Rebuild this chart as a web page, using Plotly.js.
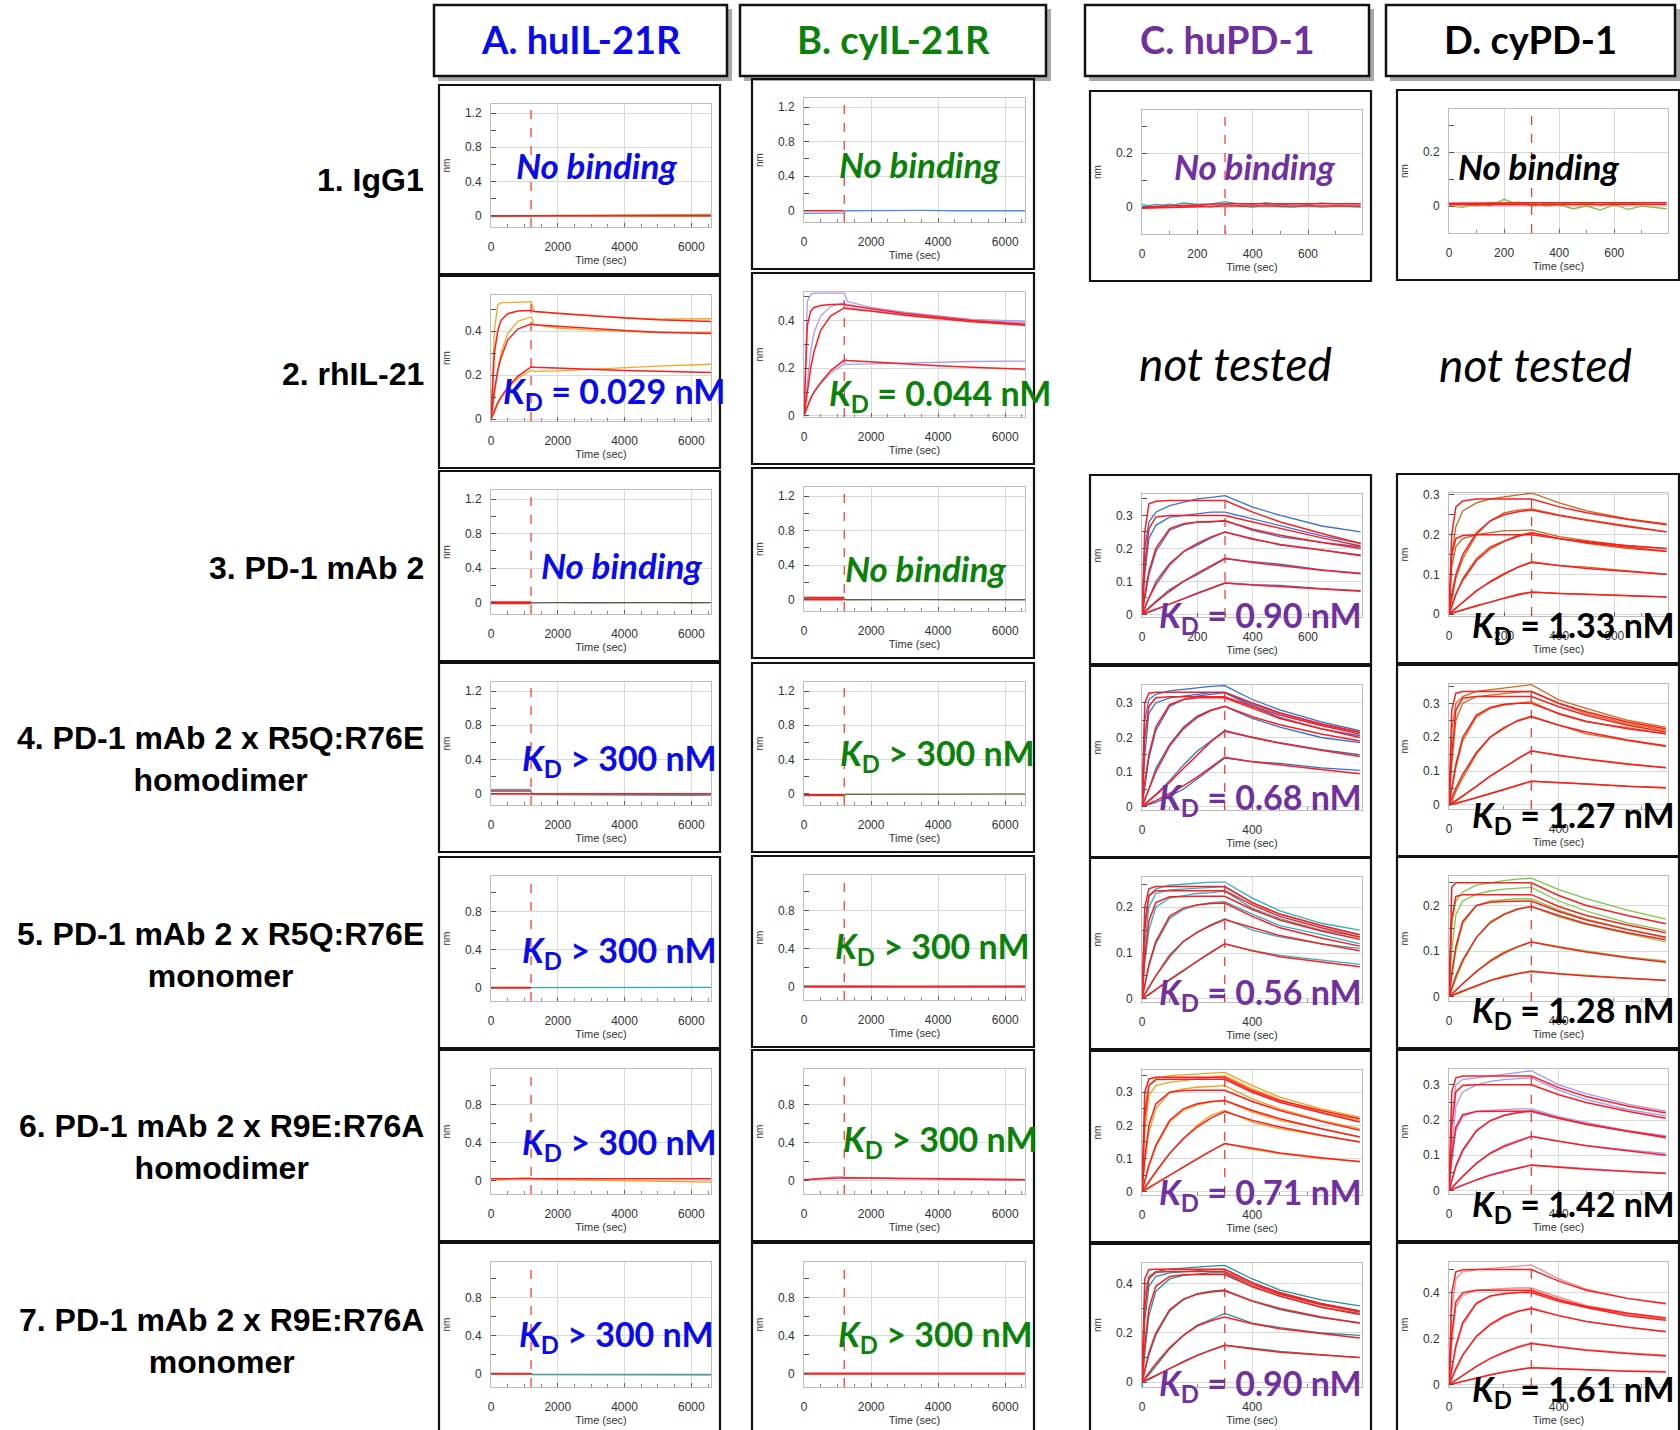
<!DOCTYPE html>
<html><head><meta charset="utf-8">
<script src="https://cdn.plot.ly/plotly-3.0.1.min.js"></script>
<style>html,body{margin:0;padding:0;background:#fff}#chart{width:1680px;height:1430px}</style>
</head><body><div id="chart"></div>
<script>
// ================= DATA =================
const COLUMN_TITLES = ['A. huIL-21R', 'B. cyIL-21R', 'C. huPD-1', 'D. cyPD-1'];
const ROW_LABELS = ['1. IgG1', '2. rhIL-21', '3. PD-1 mAb 2',
  '4. PD-1 mAb 2 x R5Q:R76E<br>homodimer', '5. PD-1 mAb 2 x R5Q:R76E<br>monomer',
  '6. PD-1 mAb 2 x R9E:R76A<br>homodimer', '7. PD-1 mAb 2 x R9E:R76A<br>monomer'];
const RESULT_A = ['No binding', '= 0.029 nM', 'No binding', '> 300 nM', '> 300 nM', '> 300 nM', '> 300 nM'];
const RESULT_B = ['No binding', '= 0.044 nM', 'No binding', '> 300 nM', '> 300 nM', '> 300 nM', '> 300 nM'];
const RESULT_C = ['No binding', 'not tested', '= 0.90 nM', '= 0.68 nM', '= 0.56 nM', '= 0.71 nM', '= 0.90 nM'];
const RESULT_D = ['No binding', 'not tested', '= 1.33 nM', '= 1.27 nM', '= 1.28 nM', '= 1.42 nM', '= 1.61 nM'];

// time grids (sec)
const T_AB = [0, 100, 200, 300, 500, 800, 1200, 1300, 2000, 3000, 4000, 5000, 6590];
const T_CD = [0, 10, 25, 50, 100, 150, 200, 250, 300, 400, 500, 650, 790];
const T_NOISE_AB = [0, 300, 600, 900, 1200, 1250, 2000, 2800, 3600, 4400, 5200, 6000, 6590];
const T_NOISE_CD = [0, 50, 100, 150, 200, 250, 300, 350, 400, 450, 500, 550, 600, 650, 700, 790];
const T_FLAT = [0, 1200, 6590];
const T_ASSOC = [0, 1200];
const T_FLAT_CD = [0, 300, 790];

// ---- flat (no-binding) responses, nm ----
const A1_DATA = [-0.01, -0.005, -0.008, -0.004, -0.002, 0.002, 0.005, 0.008, 0.01, 0.012, 0.015, 0.014, 0.016];
const A1_FIT = [0.0, 0.0, 0.0];
const B1_DATA = [-0.03, -0.03, -0.028, -0.03, -0.025, 0.0, 0.003, 0.0, 0.004, 0.0, 0.003, -0.002, 0.0];
const B1_FIT = [0.0, 0.0];
const C1_DATA = [
  [0.0, 0.01, 0.005, 0.015, 0.01, 0.012, 0.02, 0.012, 0.01, 0.016, 0.008, 0.013, 0.01, 0.015, 0.012, 0.012],
  [0.01, 0.0, 0.012, -0.002, 0.008, 0.0, 0.01, 0.005, 0.0, 0.009, 0.002, 0.0, 0.007, 0.0, 0.005, 0.0]];
const C1_FIT = [[0.0, 0.012, 0.012], [-0.004, 0.004, 0.004]];
const D1_DATA = [
  [0.0, -0.005, 0.01, 0.0, 0.025, 0.005, 0.012, 0.0, 0.005, -0.01, 0.0, -0.015, 0.005, -0.012, 0.0, -0.01],
  [0.005, 0.01, 0.0, 0.012, 0.005, 0.015, 0.0, 0.01, 0.012, 0.006, 0.012, 0.004, 0.01, 0.008, 0.012, 0.012]];
const D1_FIT = [[0.005, 0.006, 0.006], [0.01, 0.012, 0.012]];
const A3_DATA = [-0.005, -0.003, -0.006, -0.004, -0.003, 0.0, 0.002, 0.0, 0.003, 0.001, 0.002, 0.0, 0.001];
const A3_FIT = [0.0, 0.0];
const B3_DATA = [0.01, 0.01, 0.008, 0.01, 0.01, 0.0, 0.003, -0.002, 0.002, 0.0, 0.002, -0.002, 0.0];
const B3_FIT = [[0.025, 0.025], [0.0, 0.0]];
const A4_DATA = [0.03, 0.028, 0.03, 0.032, 0.03, -0.01, -0.012, -0.01, -0.015, -0.012, -0.015, -0.016, -0.015];
const A4_FIT = [[0.045, 0.045], [0.0, 0.0, 0.0]];
const B4_DATA = [-0.02, -0.022, -0.02, -0.021, -0.02, -0.005, -0.004, -0.005, -0.003, -0.005, -0.004, -0.005, -0.004];
const B4_FIT = [-0.01, -0.01];
const A5_DATA = [0.0, 0.0, 0.0, 0.0, 0.0, 0.002, 0.001, 0.002, 0.0, 0.002, 0.001, 0.002, 0.002];
const A5_FIT = [0.0, 0.0];
const B5_DATA = [0.004, 0.003, 0.004, 0.005, 0.004, 0.003, 0.004, 0.003, 0.004, 0.003, 0.004, 0.003, 0.004];
const B5_FIT = [0.0, 0.0, 0.0];
const A6_DATA = [0.0, 0.01, 0.02, 0.03, 0.03, 0.02, 0.01, 0.005, 0.0, -0.005, -0.01, -0.015, -0.015];
const A6_FIT = [0.02, 0.02, 0.02];
const B6_DATA = [0.0, 0.02, 0.03, 0.04, 0.04, 0.03, 0.03, 0.02, 0.02, 0.012, 0.01, 0.005, 0.005];
const B6_FIT = [0.01, 0.03, 0.01];
const A7_DATA = [0.0, 0.0, 0.0, 0.0, 0.0, -0.01, -0.01, -0.012, -0.01, -0.012, -0.01, -0.012, -0.012];
const A7_FIT = [0.0, 0.0];
const B7_DATA = [0.003, 0.004, 0.002, 0.004, 0.003, 0.002, 0.003, 0.002, 0.003, 0.002, 0.003, 0.002, 0.003];
const B7_FIT = [0.0, 0.0, 0.0];

// ---- rhIL-21 kinetics (T_AB) ----
const A2_FIT = [
  [0, 0.30, 0.40, 0.45, 0.48, 0.492, 0.495, 0.49, 0.482, 0.47, 0.46, 0.452, 0.445],
  [0, 0.13, 0.22, 0.28, 0.36, 0.41, 0.433, 0.43, 0.423, 0.412, 0.403, 0.396, 0.39],
  [0, 0.04, 0.075, 0.10, 0.145, 0.195, 0.238, 0.236, 0.232, 0.226, 0.222, 0.218, 0.213]];
const A2_DATA = [
  [0, 0.40, 0.52, 0.53, 0.53, 0.532, 0.535, 0.49, 0.48, 0.47, 0.462, 0.455, 0.457],
  [0, 0.12, 0.22, 0.30, 0.39, 0.445, 0.465, 0.43, 0.415, 0.405, 0.398, 0.394, 0.395],
  [0, 0.03, 0.07, 0.10, 0.14, 0.185, 0.222, 0.218, 0.22, 0.228, 0.235, 0.242, 0.25]];
const B2_FIT = [
  [0, 0.38, 0.44, 0.455, 0.463, 0.467, 0.469, 0.465, 0.45, 0.43, 0.415, 0.40, 0.385],
  [0, 0.10, 0.20, 0.27, 0.36, 0.42, 0.453, 0.45, 0.44, 0.422, 0.408, 0.395, 0.38],
  [0, 0.04, 0.075, 0.10, 0.14, 0.19, 0.234, 0.232, 0.226, 0.218, 0.21, 0.204, 0.196]];
const B2_DATA = [
  [0, 0.48, 0.51, 0.515, 0.515, 0.515, 0.515, 0.48, 0.455, 0.435, 0.42, 0.405, 0.398],
  [0, 0.14, 0.27, 0.35, 0.42, 0.46, 0.475, 0.455, 0.44, 0.425, 0.41, 0.40, 0.392],
  [0, 0.04, 0.07, 0.10, 0.135, 0.18, 0.218, 0.216, 0.218, 0.222, 0.224, 0.228, 0.23]];

// ---- PD-1 kinetics (T_CD) ----
const C3_FIT = [
  [0, .25, .335, .343, .345, .345, .345, .345, .345, .31, .28, .245, .215],
  [0, .15, .26, .295, .30, .30, .30, .30, .30, .28, .26, .232, .207],
  [0, .06, .13, .20, .26, .275, .28, .282, .283, .258, .24, .218, .20],
  [0, .02, .05, .09, .15, .19, .215, .235, .25, .228, .212, .195, .178],
  [0, .008, .018, .037, .07, .10, .125, .148, .17, .157, .147, .134, .123],
  [0, .003, .008, .016, .032, .047, .063, .079, .095, .089, .084, .077, .07]];
const C3_DATA = [
  [0, .20, .28, .31, .33, .34, .35, .355, .36, .325, .30, .268, .25],
  [0, .12, .23, .27, .295, .30, .305, .31, .31, .29, .27, .238, .215],
  [0, .05, .12, .19, .255, .272, .28, .28, .285, .255, .235, .218, .205],
  [0, .02, .05, .10, .155, .19, .21, .232, .25, .23, .21, .195, .18],
  [0, .01, .02, .04, .075, .10, .12, .145, .168, .16, .152, .135, .125],
  [0, .002, .006, .014, .03, .048, .065, .08, .095, .09, .088, .078, .072]];
const D3_FIT = [
  [0, .20, .27, .285, .29, .29, .29, .29, .29, .27, .255, .238, .225],
  [0, .05, .10, .15, .205, .235, .25, .258, .262, .248, .236, .22, .207],
  [0, .15, .19, .198, .20, .20, .20, .20, .20, .19, .182, .172, .165],
  [0, .02, .05, .085, .135, .165, .183, .196, .205, .19, .18, .168, .158],
  [0, .006, .015, .03, .058, .082, .102, .118, .13, .122, .115, .107, .10],
  [0, .002, .005, .01, .02, .03, .04, .048, .055, .052, .049, .046, .043]];
const D3_DATA = [
  [0, .15, .22, .26, .28, .29, .295, .30, .305, .28, .26, .24, .227],
  [0, .04, .09, .14, .20, .235, .255, .262, .265, .25, .238, .222, .207],
  [0, .12, .17, .19, .20, .205, .21, .21, .212, .195, .185, .172, .165],
  [0, .02, .05, .09, .14, .17, .185, .198, .205, .19, .178, .165, .158],
  [0, .005, .015, .03, .06, .08, .10, .118, .132, .122, .118, .108, .10],
  [0, .002, .005, .012, .022, .03, .04, .05, .056, .052, .05, .047, .043]];
const C4_FIT = [
  [0, .30, .328, .331, .331, .331, .331, .331, .331, .30, .272, .24, .216],
  [0, .20, .29, .315, .318, .318, .318, .318, .318, .29, .265, .235, .21],
  [0, .07, .15, .23, .295, .31, .315, .315, .315, .285, .255, .225, .20],
  [0, .02, .05, .10, .175, .225, .258, .278, .29, .26, .237, .21, .19],
  [0, .006, .016, .033, .07, .11, .15, .188, .218, .20, .183, .163, .145],
  [0, .003, .008, .017, .038, .06, .085, .115, .143, .13, .12, .107, .095]];
const C4_DATA = [
  [0, .25, .31, .325, .335, .34, .345, .348, .35, .31, .28, .245, .22],
  [0, .15, .27, .30, .315, .32, .325, .33, .33, .295, .27, .238, .215],
  [0, .06, .14, .22, .29, .31, .32, .325, .33, .29, .258, .225, .205],
  [0, .02, .05, .11, .18, .23, .262, .28, .29, .255, .23, .20, .185],
  [0, .008, .018, .035, .075, .12, .16, .19, .22, .20, .185, .165, .15],
  [0, .002, .005, .012, .03, .05, .08, .11, .14, .13, .125, .112, .105]];
const D4_FIT = [
  [0, .28, .33, .335, .335, .335, .335, .335, .335, .30, .275, .245, .225],
  [0, .15, .28, .315, .32, .32, .32, .32, .32, .29, .265, .235, .215],
  [0, .05, .12, .20, .265, .288, .297, .30, .30, .27, .247, .225, .21],
  [0, .02, .05, .09, .155, .20, .228, .248, .26, .235, .215, .192, .175],
  [0, .005, .013, .027, .055, .085, .11, .137, .159, .146, .135, .12, .11],
  [0, .002, .005, .01, .021, .033, .045, .058, .07, .066, .061, .055, .05]];
const D4_DATA = [
  [0, .22, .30, .32, .335, .34, .345, .35, .355, .31, .285, .25, .23],
  [0, .12, .25, .30, .32, .325, .33, .333, .335, .30, .27, .24, .22],
  [0, .04, .11, .19, .26, .285, .295, .30, .305, .268, .245, .228, .21],
  [0, .01, .04, .08, .15, .20, .225, .25, .262, .235, .21, .19, .172],
  [0, .003, .01, .025, .055, .085, .11, .135, .16, .145, .135, .122, .11],
  [0, .001, .003, .01, .022, .032, .045, .058, .07, .065, .062, .055, .052]];
const C5_FIT = [
  [0, .20, .24, .245, .245, .245, .245, .245, .245, .21, .185, .16, .14],
  [0, .15, .225, .236, .236, .236, .236, .236, .236, .205, .18, .155, .135],
  [0, .09, .17, .21, .223, .224, .224, .224, .224, .195, .172, .148, .13],
  [0, .03, .075, .125, .18, .198, .205, .208, .209, .18, .155, .133, .115],
  [0, .01, .025, .05, .095, .125, .145, .16, .173, .155, .138, .12, .105],
  [0, .004, .01, .02, .042, .062, .083, .102, .12, .105, .092, .08, .07]];
const C5_DATA = [
  [0, .17, .225, .24, .248, .25, .252, .255, .255, .22, .192, .165, .15],
  [0, .12, .20, .23, .238, .24, .242, .244, .245, .21, .185, .16, .14],
  [0, .08, .15, .20, .22, .225, .23, .232, .235, .198, .175, .15, .135],
  [0, .03, .07, .12, .175, .195, .205, .21, .212, .185, .16, .14, .12],
  [0, .01, .025, .05, .09, .125, .145, .162, .175, .15, .135, .12, .11],
  [0, .003, .008, .02, .04, .06, .082, .10, .12, .105, .095, .085, .075]];
const D5_FIT = [
  [0, .24, .25, .25, .25, .25, .25, .25, .25, .222, .20, .178, .16],
  [0, .17, .22, .224, .224, .224, .224, .224, .224, .198, .178, .157, .14],
  [0, .05, .11, .165, .20, .207, .209, .21, .21, .187, .168, .147, .13],
  [0, .02, .045, .08, .13, .162, .18, .192, .198, .178, .16, .14, .125],
  [0, .006, .014, .028, .055, .077, .095, .109, .12, .108, .098, .085, .075],
  [0, .002, .006, .012, .024, .035, .043, .05, .055, .05, .045, .04, .035]];
const D5_DATA = [
  [0, .16, .21, .23, .245, .25, .255, .258, .26, .235, .215, .19, .17],
  [0, .10, .18, .21, .225, .232, .236, .238, .24, .21, .188, .162, .145],
  [0, .04, .10, .16, .20, .21, .212, .215, .215, .19, .17, .148, .13],
  [0, .015, .04, .075, .13, .165, .182, .193, .198, .175, .158, .138, .12],
  [0, .005, .013, .028, .055, .08, .098, .11, .12, .11, .10, .087, .078],
  [0, .001, .004, .01, .022, .035, .045, .05, .057, .05, .047, .04, .036]];
const C6_FIT = [
  [0, .30, .34, .345, .345, .345, .345, .345, .345, .305, .275, .245, .22],
  [0, .22, .32, .338, .339, .339, .339, .339, .339, .30, .27, .238, .21],
  [0, .10, .20, .265, .30, .305, .306, .306, .306, .272, .245, .212, .185],
  [0, .03, .08, .14, .215, .25, .265, .272, .275, .245, .22, .19, .165],
  [0, .012, .03, .06, .115, .16, .195, .222, .242, .215, .195, .17, .15],
  [0, .005, .012, .025, .05, .075, .10, .123, .145, .13, .117, .102, .09]];
const C6_DATA = [
  [0, .25, .32, .34, .35, .352, .355, .358, .36, .32, .285, .25, .225],
  [0, .18, .29, .32, .33, .335, .34, .345, .35, .31, .278, .24, .215],
  [0, .09, .18, .25, .30, .31, .315, .318, .32, .28, .25, .215, .19],
  [0, .03, .075, .135, .21, .245, .262, .27, .275, .24, .215, .19, .165],
  [0, .01, .028, .058, .115, .16, .20, .23, .245, .21, .19, .168, .15],
  [0, .004, .01, .024, .05, .075, .10, .122, .145, .128, .115, .10, .092]];
const D6_FIT = [
  [0, .28, .32, .325, .325, .325, .325, .325, .325, .292, .267, .24, .22],
  [0, .18, .28, .298, .30, .30, .30, .30, .30, .272, .25, .225, .205],
  [0, .10, .18, .215, .224, .225, .225, .225, .225, .205, .188, .168, .15],
  [0, .03, .07, .115, .17, .198, .213, .221, .225, .205, .188, .168, .152],
  [0, .008, .02, .04, .077, .105, .125, .14, .153, .14, .127, .113, .10],
  [0, .003, .008, .016, .03, .043, .054, .063, .072, .066, .06, .054, .048]];
const D6_DATA = [
  [0, .22, .30, .315, .32, .325, .33, .335, .34, .30, .275, .245, .225],
  [0, .12, .24, .28, .30, .31, .315, .318, .32, .285, .258, .23, .212],
  [0, .08, .17, .21, .225, .228, .23, .232, .232, .21, .192, .17, .155],
  [0, .025, .065, .11, .168, .198, .215, .222, .228, .208, .192, .17, .155],
  [0, .007, .018, .04, .078, .107, .128, .142, .155, .14, .128, .115, .105],
  [0, .002, .006, .015, .03, .045, .056, .065, .072, .068, .062, .055, .05]];
const C7_FIT = [
  [0, .42, .458, .46, .46, .46, .46, .46, .46, .405, .365, .32, .29],
  [0, .30, .42, .447, .45, .45, .45, .45, .45, .398, .358, .315, .285],
  [0, .15, .30, .39, .43, .437, .438, .438, .438, .388, .35, .305, .275],
  [0, .05, .12, .20, .295, .338, .358, .367, .372, .33, .30, .265, .24],
  [0, .015, .037, .075, .14, .19, .228, .25, .265, .238, .217, .197, .18],
  [0, .005, .013, .027, .055, .082, .108, .13, .15, .135, .122, .11, .10]];
const C7_DATA = [
  [0, .35, .43, .45, .46, .465, .47, .472, .475, .42, .375, .335, .31],
  [0, .25, .39, .43, .445, .45, .455, .458, .46, .405, .362, .318, .29],
  [-0.03, .12, .27, .37, .42, .435, .44, .445, .445, .39, .35, .305, .28],
  [0, .045, .11, .19, .29, .335, .36, .37, .375, .33, .295, .262, .242],
  [0, .01, .03, .065, .135, .19, .232, .255, .28, .24, .222, .20, .19],
  [0, .003, .01, .025, .055, .085, .11, .13, .15, .138, .125, .112, .10]];
const D7_FIT = [
  [0, .40, .49, .499, .50, .50, .50, .50, .50, .45, .41, .375, .353],
  [0, .22, .36, .40, .41, .41, .41, .41, .41, .37, .34, .31, .29],
  [0, .07, .17, .27, .355, .385, .395, .40, .40, .362, .335, .30, .28],
  [0, .03, .07, .13, .21, .26, .295, .318, .33, .30, .275, .25, .23],
  [0, .008, .02, .042, .08, .113, .14, .162, .179, .164, .15, .135, .125],
  [0, .003, .008, .016, .03, .043, .055, .066, .074, .069, .064, .058, .055]];
const D7_DATA = [
  [0, .33, .46, .49, .50, .505, .51, .515, .52, .46, .415, .375, .35],
  [0, .18, .34, .39, .41, .415, .418, .42, .42, .38, .345, .312, .29],
  [0, .06, .16, .26, .35, .385, .395, .40, .405, .365, .337, .305, .285],
  [0, .025, .065, .125, .21, .265, .30, .32, .335, .30, .275, .25, .232],
  [0, .006, .018, .04, .08, .115, .142, .165, .182, .165, .152, .138, .128],
  [0, .002, .006, .014, .028, .043, .055, .066, .075, .07, .066, .06, .058]];

// ================= STYLE / LAYOUT CONFIG =================
const W = 1680, H = 1430;
const RED = '#ff1c1c';
const TXT_COL = {A: '#0a0aee', B: '#0a820a', C: '#7030a0', D: '#000000'};
const FONT_TXT = 'Lato, "Open Sans", sans-serif';
const FONT_AX = '"Liberation Sans", Arial, sans-serif';

const HEADER_BOX = {A: [434, 5, 727, 76], B: [740, 5, 1046, 76], C: [1085, 5, 1369, 76], D: [1386, 5, 1675, 76]};
const FRAME_X = {A: [439, 720], B: [752, 1034], C: [1090, 1371], D: [1397, 1679]};
const FRAME_Y = {
  A: [[85, 274], [276, 468], [471, 661], [663, 852], [857, 1048], [1050, 1241], [1243, 1434]],
  B: [[79, 269], [273, 464], [468, 658], [663, 852], [856, 1047], [1050, 1241], [1243, 1434]],
  C: [[91, 281], null, [475, 664], [666, 857], [858, 1049], [1051, 1242], [1244, 1434]],
  D: [[90, 280], null, [474, 663], [665, 856], [857, 1048], [1050, 1241], [1243, 1434]]};
const TEXT_POS = {
  A: [[596, 165], [614, 393], [621, 565], [619, 760], [619, 952], [619, 1144], [616, 1336]],
  B: [[919, 164], [940, 395], [925, 568], [937, 755], [932, 948], [940, 1141], [935, 1336]],
  C: [[1254, 166], [1235, 364], [1260, 617], [1260, 799], [1260, 994], [1260, 1194], [1260, 1385]],
  D: [[1538, 166], [1535, 365], [1573, 627], [1573, 817], [1573, 1012], [1573, 1206], [1573, 1391]]};
const ROW_LABEL_Y = [180, 374, 568, 759, 955, 1147, 1341];

const YAX_AB_BIG = {range: [-0.13, 1.305], dtick: 0.4, minor: 0.2};
const YAX_AB_SMALL = {range: [-0.14, 1.17], dtick: 0.4, minor: 0.2};

// panels: lines = [time, values, color, width]
const PANELS = [
  {c: 'A', r: 1, y: YAX_AB_BIG, lines: [[T_NOISE_AB, A1_DATA, '#7cb342', 1.3], [T_FLAT, A1_FIT, RED, 1.6]]},
  {c: 'B', r: 1, y: YAX_AB_BIG, lines: [[T_NOISE_AB, B1_DATA, '#4a90e2', 1.3], [T_ASSOC, B1_FIT, RED, 1.6]]},
  {c: 'C', r: 1, y: {range: [-0.1, 0.36], dtick: 0.2, minor: 0.1},
   lines: [[T_NOISE_CD, C1_DATA[0], '#2fa8c6', 1.3], [T_NOISE_CD, C1_DATA[1], '#2fa8c6', 1.3],
           [T_FLAT_CD, C1_FIT[0], RED, 1.6], [T_FLAT_CD, C1_FIT[1], RED, 1.6]]},
  {c: 'D', r: 1, y: {range: [-0.1, 0.36], dtick: 0.2, minor: 0.1},
   lines: [[T_NOISE_CD, D1_DATA[0], '#7ac142', 1.3], [T_NOISE_CD, D1_DATA[1], '#7ac142', 1.3],
           [T_FLAT_CD, D1_FIT[0], RED, 1.6], [T_FLAT_CD, D1_FIT[1], RED, 1.6]]},
  {c: 'A', r: 2, y: {range: [-0.008, 0.565], dtick: 0.2, minor: 0.1}, multi: [T_AB, A2_DATA, A2_FIT, '#f5a623']},
  {c: 'B', r: 2, y: {range: [-0.005, 0.52], dtick: 0.2, minor: 0.1}, multi: [T_AB, B2_DATA, B2_FIT, '#a99cf5']},
  {c: 'A', r: 3, y: YAX_AB_BIG, lines: [[T_NOISE_AB, A3_DATA, '#5a5a4a', 1.3], [T_ASSOC, A3_FIT, RED, 3]]},
  {c: 'B', r: 3, y: YAX_AB_BIG, lines: [[T_NOISE_AB, B3_DATA, '#6b5d3c', 1.3], [T_ASSOC, B3_FIT[0], RED, 1.6], [T_ASSOC, B3_FIT[1], RED, 1.6]]},
  {c: 'C', r: 3, y: {range: [-0.008, 0.365], dtick: 0.1, minor: 0.05}, multi: [T_CD, C3_DATA, C3_FIT, '#3a6fd8']},
  {c: 'D', r: 3, y: {range: [-0.005, 0.305], dtick: 0.1, minor: 0.05}, multi: [T_CD, D3_DATA, D3_FIT, '#c8641e']},
  {c: 'A', r: 4, y: YAX_AB_BIG, lines: [[T_NOISE_AB, A4_DATA, '#2a9aa8', 1.3], [T_ASSOC, A4_FIT[0], RED, 1.6], [T_FLAT, A4_FIT[1], RED, 1.6]]},
  {c: 'B', r: 4, y: YAX_AB_BIG, lines: [[T_NOISE_AB, B4_DATA, '#6b6b3c', 1.3], [T_ASSOC, B4_FIT, RED, 1.6]]},
  {c: 'C', r: 4, y: {range: [-0.01, 0.352], dtick: 0.1, minor: 0.05}, multi: [T_CD, C4_DATA, C4_FIT, '#2f6fd6']},
  {c: 'D', r: 4, y: {range: [-0.012, 0.357], dtick: 0.1, minor: 0.05}, multi: [T_CD, D4_DATA, D4_FIT, '#d2691e']},
  {c: 'A', r: 5, y: YAX_AB_SMALL, lines: [[T_NOISE_AB, A5_DATA, '#2aa7b8', 1.3], [T_ASSOC, A5_FIT, RED, 2]]},
  {c: 'B', r: 5, y: YAX_AB_SMALL, lines: [[T_NOISE_AB, B5_DATA, '#e03030', 1.3], [T_FLAT, B5_FIT, RED, 2]]},
  {c: 'C', r: 5, y: {range: [-0.007, 0.266], dtick: 0.1, minor: 0.05}, multi: [T_CD, C5_DATA, C5_FIT, '#2ab0c8']},
  {c: 'D', r: 5, y: {range: [-0.01, 0.265], dtick: 0.1, minor: 0.05}, multi: [T_CD, D5_DATA, D5_FIT, '#7ac943']},
  {c: 'A', r: 6, y: YAX_AB_SMALL, lines: [[T_NOISE_AB, A6_DATA, '#f0a020', 1.3], [T_FLAT, A6_FIT, RED, 1.6]]},
  {c: 'B', r: 6, y: YAX_AB_SMALL, lines: [[T_NOISE_AB, B6_DATA, '#b09cf0', 1.3], [T_FLAT, B6_FIT, RED, 1.6]]},
  {c: 'C', r: 6, y: {range: [-0.01, 0.367], dtick: 0.1, minor: 0.05}, multi: [T_CD, C6_DATA, C6_FIT, '#f0a020']},
  {c: 'D', r: 6, y: {range: [-0.01, 0.345], dtick: 0.1, minor: 0.05}, multi: [T_CD, D6_DATA, D6_FIT, '#a897f5']},
  {c: 'A', r: 7, y: YAX_AB_SMALL, lines: [[T_NOISE_AB, A7_DATA, '#1a7f8e', 1.3], [T_ASSOC, A7_FIT, RED, 2]]},
  {c: 'B', r: 7, y: YAX_AB_SMALL, lines: [[T_NOISE_AB, B7_DATA, '#e02020', 1.3], [T_FLAT, B7_FIT, RED, 2]]},
  {c: 'C', r: 7, y: {range: [-0.02, 0.485], dtick: 0.2, minor: 0.1}, multi: [T_CD, C7_DATA, C7_FIT, '#1d8f9f']},
  {c: 'D', r: 7, y: {range: [-0.01, 0.533], dtick: 0.2, minor: 0.1}, multi: [T_CD, D7_DATA, D7_FIT, '#f58a8a']}
];

// ================= BUILD =================
const traces = [], shapes = [], annotations = [];
const layout = {width: W, height: H, margin: {l: 0, r: 0, t: 0, b: 0},
  paper_bgcolor: '#ffffff', plot_bgcolor: '#ffffff', showlegend: false};
const fx = v => v / W, fy = v => 1 - v / H;

// header boxes
['A', 'B', 'C', 'D'].forEach((c, k) => {
  const b = HEADER_BOX[c];
  shapes.push({type: 'rect', xref: 'paper', yref: 'paper', x0: fx(b[0] + 4), x1: fx(b[2] + 5), y0: fy(b[1] + 4), y1: fy(b[3] + 5),
    fillcolor: '#a8a8a8', line: {width: 0}, layer: 'below'});
  shapes.push({type: 'rect', xref: 'paper', yref: 'paper', x0: fx(b[0]), x1: fx(b[2]), y0: fy(b[1]), y1: fy(b[3]),
    fillcolor: '#ffffff', line: {color: '#111', width: 2.5}, layer: 'below'});
  annotations.push({xref: 'paper', yref: 'paper', x: fx((b[0] + b[2]) / 2), y: fy(39), xanchor: 'center', yanchor: 'middle',
    text: '<b>' + COLUMN_TITLES[k] + '</b>', showarrow: false, font: {family: FONT_TXT, size: 38, color: TXT_COL[c]}});
});

// row labels
ROW_LABELS.forEach((t, k) => {
  annotations.push({xref: 'paper', yref: 'paper', x: fx(426), y: fy(ROW_LABEL_Y[k]), xanchor: 'right', yanchor: 'middle',
    align: 'center', text: '<b>' + t + '</b>', showarrow: false,
    font: {family: FONT_AX, size: 32, color: '#000'}});
});

// result texts
const RESULTS = {A: RESULT_A, B: RESULT_B, C: RESULT_C, D: RESULT_D};
['A', 'B', 'C', 'D'].forEach(c => {
  RESULTS[c].forEach((s, k) => {
    let txt, col = TXT_COL[c], size = 34;
    if (s === 'not tested') { txt = '<i>not tested</i>'; col = '#000'; size = 46; }
    else if (s === 'No binding') { txt = '<b><i>No binding</i></b>'; size = 35; }
    else txt = '<b><i>K</i><sub>D</sub> ' + s + '</b>';
    const p = TEXT_POS[c][k];
    annotations.push({xref: 'paper', yref: 'paper', x: fx(p[0]), y: fy(p[1]), xanchor: 'center', yanchor: 'middle',
      text: txt, showarrow: false, font: {family: FONT_TXT, size: size, color: col}});
  });
});

// subplots
PANELS.forEach((P, idx) => {
  const i = idx + 1;
  const xk = i === 1 ? 'xaxis' : 'xaxis' + i, yk = i === 1 ? 'yaxis' : 'yaxis' + i;
  const xr = i === 1 ? 'x' : 'x' + i, yr = i === 1 ? 'y' : 'y' + i;
  const fX = FRAME_X[P.c], fY = FRAME_Y[P.c][P.r - 1];
  // panel frame
  shapes.push({type: 'rect', xref: 'paper', yref: 'paper', x0: fx(fX[0]), x1: fx(fX[1]), y0: fy(fY[0]), y1: fy(fY[1]),
    fillcolor: 'rgba(0,0,0,0)', line: {color: '#111', width: 2.2}, layer: 'above'});
  const px0 = fX[0] + 52, px1 = fX[1] - (P.c === 'D' ? 11 : 9), py0 = fY[0] + 19, py1 = fY[1] - 47;
  const isAB = (P.c === 'A' || P.c === 'B');
  const xRange = isAB ? [0, 6590] : (P.r >= 4 ? [0, 798] : [0, 795]);
  const xDt = isAB ? 2000 : (P.r >= 4 ? 400 : 200);
  const xMinor = isAB ? 500 : 100;
  const tickfont = {family: FONT_AX, size: 12, color: '#333'};
  layout[xk] = {domain: [fx(px0), fx(px1)], range: xRange, anchor: yr, tickmode: 'linear', tick0: 0, dtick: xDt,
    ticks: 'inside', ticklen: 4, tickcolor: '#666', showgrid: true, gridcolor: '#d9d9d9', gridwidth: 1,
    showline: true, linecolor: '#bdbdbd', linewidth: 1, mirror: true, zeroline: false, tickfont: tickfont,
    ticklabelstandoff: 9,
    minor: {dtick: xMinor, ticks: 'inside', ticklen: 3, tickcolor: '#888', showgrid: false},
    title: {text: 'Time (sec)', font: {family: FONT_AX, size: 11, color: '#333'}, standoff: 1}, fixedrange: true};
  layout[yk] = {domain: [fy(py1), fy(py0)], range: P.y.range, anchor: xr, tickmode: 'linear', tick0: 0, dtick: P.y.dtick,
    ticks: 'inside', ticklen: 5, tickcolor: '#555', showgrid: true, gridcolor: '#d9d9d9', gridwidth: 1,
    showline: true, linecolor: '#bdbdbd', linewidth: 1, mirror: true, zeroline: false, tickfont: tickfont,
    ticklabelstandoff: 6,
    minor: {dtick: P.y.minor, ticks: 'inside', ticklen: 5, tickcolor: '#555', showgrid: false},
    title: {text: 'nm', font: {family: FONT_AX, size: 10, color: '#333'}, standoff: 12}, fixedrange: true};
  // association end marker
  shapes.push({type: 'line', xref: xr, yref: yr + ' domain', x0: isAB ? 1200 : 300, x1: isAB ? 1200 : 300, y0: 0, y1: 1,
    line: {color: '#ff2a2a', width: 1.2, dash: 'dash'}, layer: 'above'});
  const add = (t, v, col, w) => traces.push({type: 'scatter', mode: 'lines', x: t, y: v, xaxis: xr, yaxis: yr,
    line: {color: col, width: w}, hoverinfo: 'skip', showlegend: false, cliponaxis: true});
  if (P.lines) P.lines.forEach(L => add(L[0], L[1], L[2], L[3]));
  if (P.multi) {
    const [t, data, fit, col] = P.multi;
    data.forEach(d => add(t, d, col, 1.3));
    fit.forEach(f => add(t, f, RED, 1.5));
  }
});

layout.shapes = shapes;
layout.annotations = annotations;
Plotly.newPlot('chart', traces, layout, {displayModeBar: false, staticPlot: true});
</script></body></html>
